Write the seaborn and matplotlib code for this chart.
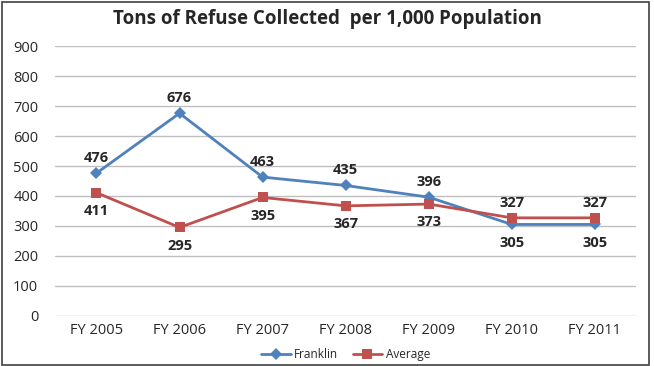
import pandas as pd
import matplotlib.pyplot as plt
import seaborn as sns
from matplotlib.patches import Rectangle

# Datos
anios = ['FY 2005', 'FY 2006', 'FY 2007', 'FY 2008', 'FY 2009', 'FY 2010', 'FY 2011']
franklin = [476, 676, 463, 435, 396, 305, 305]
promedio = [411, 295, 395, 367, 373, 327, 327]

df = pd.DataFrame({'anio': anios * 2,
                   'valor': franklin + promedio,
                   'serie': ['Franklin'] * len(anios) + ['Average'] * len(anios)})
df['pos'] = df.groupby('serie').cumcount()

sns.set_style('white')
plt.rcParams['font.family'] = ['Open Sans', 'DejaVu Sans']

fig = plt.figure(figsize=(6.54, 3.66), dpi=100)
ax = fig.add_axes([0.084, 0.137, 0.889, 0.737])

colores = {'Franklin': '#4F81BD', 'Average': '#C0504D'}
sns.lineplot(data=df, x='pos', y='valor', hue='serie', style='serie',
             markers={'Franklin': 'D', 'Average': 's'}, dashes=False,
             palette=colores, linewidth=2, markersize=6.5, markeredgewidth=0, ax=ax)

ax.set_xlim(-0.5, len(anios) - 0.5)
ax.set_ylim(0, 900)
ax.set_yticks(range(0, 901, 100))
ax.set_xticks(range(len(anios)))
ax.set_xticklabels(anios)
ax.tick_params(axis='both', labelsize=10.5, length=0, pad=5)
ax.tick_params(axis='y', pad=12)
ax.set_xlabel('')
ax.set_ylabel('')
ax.yaxis.grid(True, color='#BFBFBF', linewidth=1)
for s in ax.spines.values():
    s.set_visible(False)

# Etiquetas de datos
for i, (f, a) in enumerate(zip(franklin, promedio)):
    arriba_f = f >= a
    ax.annotate(f'{f}', (i, f), xytext=(0, 6 if arriba_f else -8), textcoords='offset points',
                ha='center', va='bottom' if arriba_f else 'top', fontsize=10.5, fontweight='bold')
    ax.annotate(f'{a}', (i, a), xytext=(0, -8 if arriba_f else 6), textcoords='offset points',
                ha='center', va='top' if arriba_f else 'bottom', fontsize=10.5, fontweight='bold')

fig.suptitle('Tons of Refuse Collected  per 1,000 Population', y=0.975, fontsize=13.5, fontweight='bold')

handles, labels = ax.get_legend_handles_labels()
ax.legend(handles, labels, loc='center', bbox_to_anchor=(0.5, -0.145), ncol=2,
          frameon=False, fontsize=8.5, handlelength=2.5, columnspacing=1.2, handletextpad=0.3)

# Marco del grafico
fig.patches.append(Rectangle((0.003, 0.004), 0.99, 0.99, transform=fig.transFigure,
                             fill=False, edgecolor='#404040', linewidth=1.2))

fig.savefig('out.png', dpi=100)
